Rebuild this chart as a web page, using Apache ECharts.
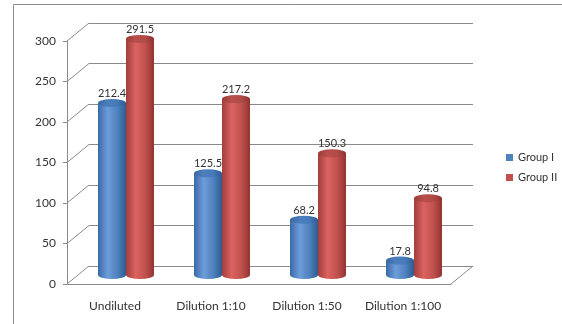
<!DOCTYPE html>
<html><head><meta charset="utf-8">
<script src="https://cdn.jsdelivr.net/npm/echarts@6/dist/echarts.min.js"></script>
<style>html,body{margin:0;padding:0;background:#fff}#c{width:562px;height:324px}</style>
</head><body><div id="c"></div>
<script>
const categories = ['Undiluted', 'Dilution 1:10', 'Dilution 1:50', 'Dilution 1:100'];
const groupI = [212.4, 125.5, 68.2, 17.8];
const groupII = [291.5, 217.2, 150.3, 94.8];
const yTicks = [0, 50, 100, 150, 200, 250, 300];

const FONT = 'Lato';
const TXT = '#333';
const AX = '#8a8a8a';
const DX = 22, DY = 18;          // depth offset of the 3D box
const BW = 28;                   // cylinder width

function grad(c1, c2, c3, c4) {
  return new echarts.graphic.LinearGradient(0, 0, 1, 0, [
    {offset: 0, color: c1}, {offset: 0.35, color: c2}, {offset: 0.7, color: c3}, {offset: 1, color: c4}
  ]);
}
const blueBody = grad('#3a6aa6', '#6d9ddb', '#4f81bd', '#2e5b93');
const redBody = grad('#a13e3b', '#da6360', '#c0504d', '#933330');
const blueTop = grad('#3a68a2', '#4d7fbd', '#4579b8', '#2f5b92');
const redTop = grad('#9b3a37', '#b8504c', '#b04a47', '#8c312e');

const chart = echarts.init(document.getElementById('c'));
chart.setOption({
  animation: false,
  textStyle: {fontFamily: FONT},
  graphic: [{
    type: 'rect', shape: {x: 13.5, y: 4.5, width: 700, height: 500},
    style: {fill: 'none', stroke: '#8c8c8c', lineWidth: 1}, silent: true, z: -10
  }],
  legend: {
    orient: 'vertical', left: 501, top: 147, itemWidth: 7, itemHeight: 7, itemGap: 9,
    icon: 'rect', textStyle: {fontFamily: FONT, fontSize: 11, color: TXT},
    data: [{name: 'Group I', itemStyle: {color: '#4f81bd'}}, {name: 'Group II', itemStyle: {color: '#c0504d'}}]
  },
  grid: [
    {left: 67, width: 384, top: 41, height: 243},            // front plane (axes)
    {left: 67 + DX / 2, width: 384, top: 41 - DY / 2, height: 243},  // mid plane (cylinders)
    {left: 67 + DX, width: 384, top: 41 - DY, height: 243}   // back wall
  ],
  xAxis: [
    {gridIndex: 0, type: 'category', data: categories,
     axisLine: {lineStyle: {color: AX}}, axisTick: {length: 4, lineStyle: {color: AX}},
     axisLabel: {interval: 0, margin: 16, fontSize: 12, color: TXT, fontFamily: FONT, hideOverlap: false}},
    {gridIndex: 1, type: 'category', data: categories, show: false},
    {gridIndex: 2, type: 'value', min: 0, max: 1, show: false}
  ],
  yAxis: [
    {gridIndex: 0, type: 'value', min: 0, max: 300, interval: 50,
     axisLine: {show: true, lineStyle: {color: AX}}, axisTick: {show: true, length: 4, lineStyle: {color: AX}},
     splitLine: {show: false}, axisLabel: {margin: 11, fontSize: 12, color: TXT, fontFamily: FONT}},
    {gridIndex: 1, type: 'value', min: 0, max: 300, interval: 50, show: false},
    {gridIndex: 2, type: 'value', min: 0, max: 300, interval: 50,
     axisLine: {show: false}, axisTick: {show: false}, axisLabel: {show: false},
     splitLine: {show: true, lineStyle: {color: AX, width: 1}}}
  ],
  series: [
    {
      type: 'custom', xAxisIndex: 2, yAxisIndex: 2, silent: true, z: 0,
      data: yTicks.map(v => [0, v]),
      renderItem: function (params, api) {
        const v = api.value(1);
        const p = api.coord([0, v]);
        const children = [{type: 'line', shape: {x1: p[0], y1: p[1], x2: p[0] - DX, y2: p[1] + DY},
          style: {stroke: AX, lineWidth: 1}}];
        if (v === 0) {
          const q = api.coord([1, 0]);
          children.push({type: 'line', shape: {x1: q[0], y1: q[1], x2: q[0] - DX, y2: q[1] + DY},
            style: {stroke: AX, lineWidth: 1}});
        }
        return {type: 'group', children: children};
      }
    },
    {name: 'Group I', type: 'bar', xAxisIndex: 1, yAxisIndex: 1, data: groupI, barWidth: BW, barGap: '0%', z: 3,
     itemStyle: {color: blueBody},
     label: {show: true, position: 'top', distance: 4, fontSize: 11, color: TXT, fontFamily: FONT}},
    {name: 'Group II', type: 'bar', xAxisIndex: 1, yAxisIndex: 1, data: groupII, barWidth: BW, barGap: '0%', z: 3,
     itemStyle: {color: redBody},
     label: {show: true, position: 'top', distance: 4, fontSize: 11, color: TXT, fontFamily: FONT}},
    {type: 'pictorialBar', xAxisIndex: 1, yAxisIndex: 1, data: groupI, symbol: 'circle', symbolSize: [BW, 8],
     symbolPosition: 'start', symbolOffset: [-BW / 2, '50%'], itemStyle: {color: blueBody}, z: 2, silent: true},
    {type: 'pictorialBar', xAxisIndex: 1, yAxisIndex: 1, data: groupII, symbol: 'circle', symbolSize: [BW, 8],
     symbolPosition: 'start', symbolOffset: [BW / 2, '50%'], itemStyle: {color: redBody}, z: 2, silent: true},
    {type: 'pictorialBar', xAxisIndex: 1, yAxisIndex: 1, data: groupI, symbol: 'circle', symbolSize: [BW, 8],
     symbolPosition: 'end', symbolOffset: [-BW / 2, '-50%'], itemStyle: {color: blueTop}, z: 4, silent: true},
    {type: 'pictorialBar', xAxisIndex: 1, yAxisIndex: 1, data: groupII, symbol: 'circle', symbolSize: [BW, 8],
     symbolPosition: 'end', symbolOffset: [BW / 2, '-50%'], itemStyle: {color: redTop}, z: 4, silent: true}
  ]
});
</script></body></html>
